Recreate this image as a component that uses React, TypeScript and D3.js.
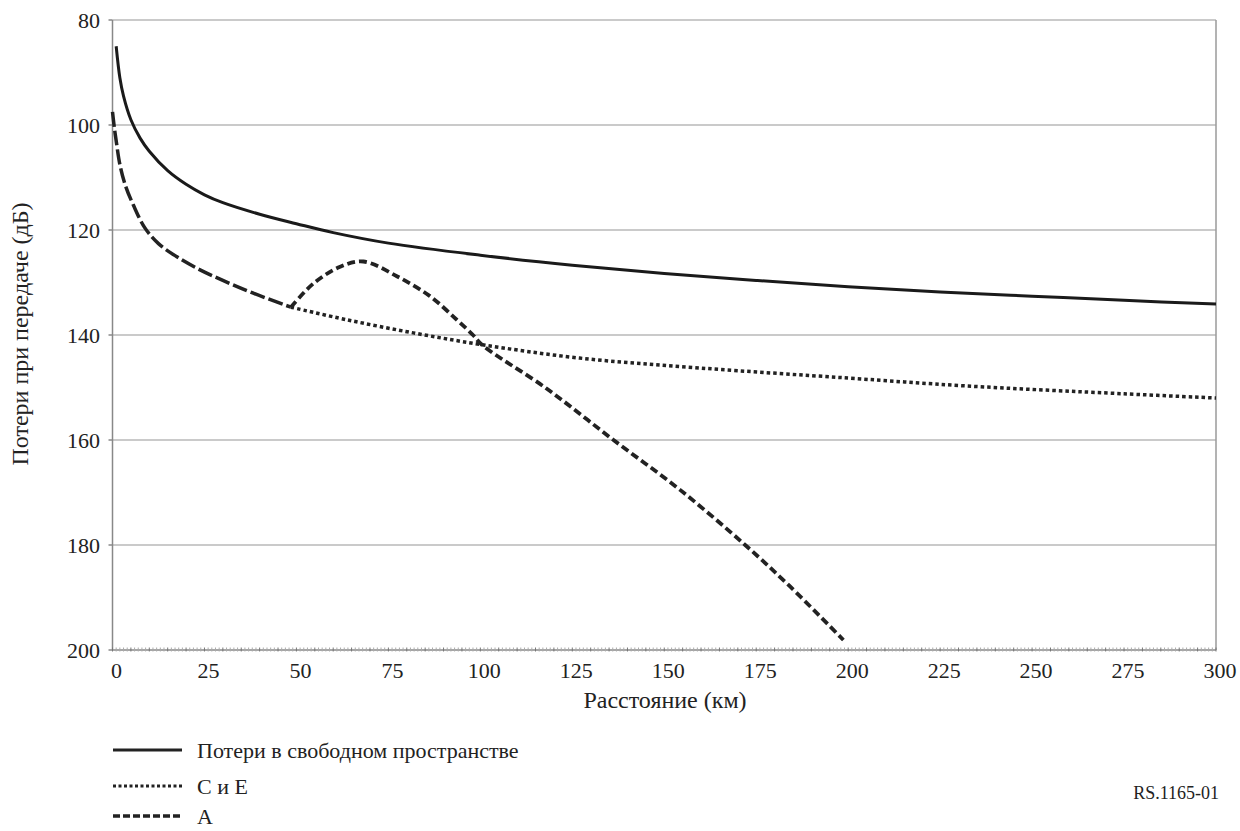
import * as d3 from 'd3';

// distance (km) / transmission loss (dB)
const freeSpaceKm = [1, 2, 3, 5, 7.5, 10, 15, 20, 25, 30, 40, 50, 60, 75, 100, 125, 150, 175, 200, 225, 250, 275, 300];
const freeSpaceDb = [85, 91, 94.5, 99, 102.5, 105, 108.7, 111.3, 113.3, 114.8, 117, 118.8, 120.5, 122.5, 124.8, 126.7, 128.3, 129.6, 130.8, 131.8, 132.6, 133.4, 134.1];

const ceKm = [0, 0.5, 1, 2, 3.5, 5.7, 8.8, 12.5, 17.5, 23.8, 30, 37.4, 48.5, 63.7, 81.8, 100, 127, 160, 200, 232, 275, 300];
const ceDb = [97.5, 100.5, 103, 107.5, 111.5, 115.3, 119.6, 122.6, 125.1, 127.6, 129.6, 131.8, 134.7, 137.1, 139.6, 141.8, 144.4, 146.3, 148.2, 149.7, 151.2, 152];

const aKm = [0, 0.5, 1, 2, 3.5, 5.7, 8.8, 12.5, 17.5, 23.8, 30, 37.4, 48.5, 54.6, 61.9, 68.2, 77.3, 86.3, 93.6, 98, 100.5, 118, 136.2, 154.3, 172, 184.2, 198.7];
const aDb = [97.5, 100.5, 103, 107.5, 111.5, 115.3, 119.6, 122.6, 125.1, 127.6, 129.6, 131.8, 134.7, 130.2, 127.0, 126.0, 128.8, 132.6, 137.1, 140, 141.9, 150.2, 160, 169.5, 180, 187.9, 198.1];

// A and C/E coincide up to this distance
const splitKm = 48.5;

const xTicks = [0, 25, 50, 75, 100, 125, 150, 175, 200, 225, 250, 275, 300];
const yTicks = [80, 100, 120, 140, 160, 180, 200];
const legendLabels = ['Потери в свободном пространстве', 'С и Е', 'А'];

const FONT = 'Liberation Serif';
const INK = '#222';

const x = d3.scaleLinear().domain([0, 300]).range([112.5, 1216]);
const y = d3.scaleLinear().domain([80, 200]).range([20, 650]);

const line = d3.line<[number, number]>()
  .x((d) => x(d[0]))
  .y((d) => y(d[1]))
  .curve(d3.curveCatmullRom.alpha(0.5));

const zip = (ks: number[], vs: number[]) => ks.map((k, i) => [k, vs[i]] as [number, number]);

export default function App() {
  const fs = zip(freeSpaceKm, freeSpaceDb);
  const ce = zip(ceKm, ceDb);
  const a = zip(aKm, aDb);
  const shared = a.filter((d) => d[0] <= splitKm);
  const ceTail = ce.filter((d) => d[0] >= splitKm);
  const aTail = a.filter((d) => d[0] >= splitKm);

  const legendStyles = [
    { dash: undefined, w: 3, yy: 750 },
    { dash: '3,2.5', w: 3, yy: 786 },
    { dash: '7,3', w: 3.5, yy: 816 },
  ];

  return (
    <svg width={1240} height={831} style={{ position: 'absolute', left: 0, top: 0, background: '#fff' }}>
      {/* grid */}
      {yTicks.filter((t) => t < 200).map((t) => (
        <line key={'g' + t} x1={x(0)} x2={x(300)} y1={y(t)} y2={y(t)} stroke="#b8b8b8" strokeWidth={1.5} />
      ))}
      <line x1={x(300)} x2={x(300)} y1={y(80)} y2={y(200)} stroke="#9a9a9a" strokeWidth={1.5} />
      <line x1={x(0)} x2={x(0)} y1={y(80)} y2={y(200)} stroke="#888" strokeWidth={1.5} />

      {/* y axis */}
      {yTicks.map((t) => (
        <g key={'y' + t}>
          <line x1={x(0) - 4} x2={x(0)} y1={y(t)} y2={y(t)} stroke="#888" strokeWidth={1.5} />
          <text x={100} y={y(t)} textAnchor="end" dominantBaseline="central" fontFamily={FONT} fontSize={22} fill={INK}>
            {t}
          </text>
        </g>
      ))}

      {/* x axis with dense minor ticks */}
      <line x1={x(0)} x2={x(300)} y1={y(200)} y2={y(200)} stroke="#888" strokeWidth={1.5} />
      {d3.range(0, 301, 1).map((k) => (
        <line key={'m' + k} x1={x(k)} x2={x(k)} y1={y(200) - 2.5} y2={y(200) + 1.5}
          stroke={k % 5 === 0 ? '#777' : '#aaa'} strokeWidth={1} />
      ))}
      {xTicks.map((t) => (
        <text key={'x' + t} x={x(t) + 4} y={670} textAnchor="middle" dominantBaseline="central"
          fontFamily={FONT} fontSize={22} fill={INK}>
          {t}
        </text>
      ))}

      {/* titles */}
      <text x={665} y={700} textAnchor="middle" dominantBaseline="central" fontFamily={FONT} fontSize={24} fill={INK}>
        Расстояние (км)
      </text>
      <text transform="translate(20,334) rotate(-90)" textAnchor="middle" dominantBaseline="central"
        fontFamily={FONT} fontSize={24} fill={INK}>
        Потери при передаче (дБ)
      </text>

      {/* curves */}
      <g fill="none">
        <path d={line(ceTail) ?? ''} stroke={INK} strokeWidth={3.5} strokeDasharray="3.5,3" />
        <path d={line(shared) ?? ''} stroke={INK} strokeWidth={3.5} strokeDasharray="15,4" />
        <path d={line(aTail) ?? ''} stroke={INK} strokeWidth={3.8} strokeDasharray="8,4" />
        <path d={line(fs) ?? ''} stroke="#1a1a1a" strokeWidth={3} />
      </g>

      {/* legend */}
      {legendLabels.map((label, i) => (
        <g key={label} transform={`translate(113,${legendStyles[i].yy})`}>
          <line x1={0} x2={69} y1={0} y2={0} stroke={INK} strokeWidth={legendStyles[i].w}
            strokeDasharray={legendStyles[i].dash} />
          <text x={84} y={0} dominantBaseline="central" fontFamily={FONT} fontSize={22} fill={INK}>
            {label}
          </text>
        </g>
      ))}

      <text x={1219} y={793} textAnchor="end" dominantBaseline="central" fontFamily={FONT} fontSize={18} fill={INK}>
        RS.1165-01
      </text>
    </svg>
  );
}
